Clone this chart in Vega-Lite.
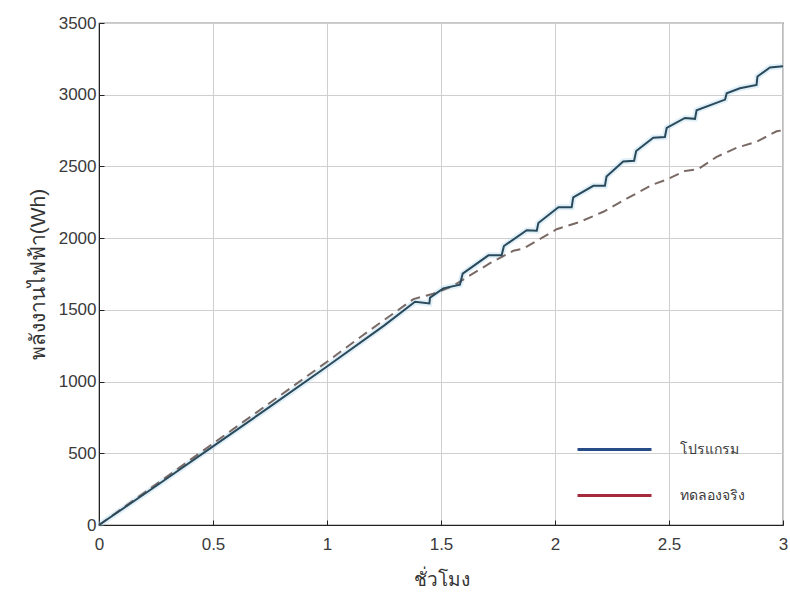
{
  "$schema": "https://vega.github.io/schema/vega-lite/v6.json",
  "width": 684,
  "height": 502,
  "autosize": {"type": "none"},
  "padding": {"left": 99, "top": 23, "right": 7, "bottom": 68},
  "background": "white",
  "config": {
    "font": "Liberation Sans",
    "view": {"stroke": "#222222", "strokeWidth": 1.2},
    "axis": {
      "gridColor": "#cfcfcf",
      "gridWidth": 1,
      "domainColor": "#222222",
      "tickColor": "#222222",
      "labelColor": "#3a3a3a",
      "labelFontSize": 17,
      "titleFontWeight": "normal",
      "titleColor": "#333333"
    }
  },
  "datasets": {
    "series": [
      {"hour": 0, "energy": 0, "series": "โปรแกรม"},
      {"hour": 0.25, "energy": 272, "series": "โปรแกรม"},
      {"hour": 0.5, "energy": 548, "series": "โปรแกรม"},
      {"hour": 0.75, "energy": 825, "series": "โปรแกรม"},
      {"hour": 1.0, "energy": 1105, "series": "โปรแกรม"},
      {"hour": 1.25, "energy": 1390, "series": "โปรแกรม"},
      {"hour": 1.386, "energy": 1556, "series": "โปรแกรม"},
      {"hour": 1.449, "energy": 1545, "series": "โปรแกรม"},
      {"hour": 1.452, "energy": 1585, "series": "โปรแกรม"},
      {"hour": 1.51, "energy": 1650, "series": "โปรแกรม"},
      {"hour": 1.583, "energy": 1675, "series": "โปรแกรม"},
      {"hour": 1.595, "energy": 1752, "series": "โปรแกรม"},
      {"hour": 1.708, "energy": 1880, "series": "โปรแกรม"},
      {"hour": 1.766, "energy": 1880, "series": "โปรแกรม"},
      {"hour": 1.776, "energy": 1945, "series": "โปรแกรม"},
      {"hour": 1.876, "energy": 2055, "series": "โปรแกรม"},
      {"hour": 1.92, "energy": 2052, "series": "โปรแกรม"},
      {"hour": 1.927, "energy": 2105, "series": "โปรแกรม"},
      {"hour": 2.015, "energy": 2215, "series": "โปรแกรม"},
      {"hour": 2.073, "energy": 2215, "series": "โปรแกรม"},
      {"hour": 2.08, "energy": 2285, "series": "โปรแกรม"},
      {"hour": 2.168, "energy": 2365, "series": "โปรแกรม"},
      {"hour": 2.219, "energy": 2365, "series": "โปรแกรม"},
      {"hour": 2.226, "energy": 2430, "series": "โปรแกรม"},
      {"hour": 2.299, "energy": 2535, "series": "โปรแกรม"},
      {"hour": 2.347, "energy": 2540, "series": "โปรแกรม"},
      {"hour": 2.356, "energy": 2607, "series": "โปรแกรม"},
      {"hour": 2.431, "energy": 2700, "series": "โปรแกรม"},
      {"hour": 2.482, "energy": 2705, "series": "โปรแกรม"},
      {"hour": 2.49, "energy": 2768, "series": "โปรแกรม"},
      {"hour": 2.57, "energy": 2838, "series": "โปรแกรม"},
      {"hour": 2.614, "energy": 2832, "series": "โปรแกรม"},
      {"hour": 2.621, "energy": 2892, "series": "โปรแกรม"},
      {"hour": 2.746, "energy": 2966, "series": "โปรแกรม"},
      {"hour": 2.753, "energy": 3010, "series": "โปรแกรม"},
      {"hour": 2.811, "energy": 3045, "series": "โปรแกรม"},
      {"hour": 2.884, "energy": 3068, "series": "โปรแกรม"},
      {"hour": 2.888, "energy": 3127, "series": "โปรแกรม"},
      {"hour": 2.943, "energy": 3190, "series": "โปรแกรม"},
      {"hour": 3.0, "energy": 3198, "series": "โปรแกรม"},
      {"hour": 0, "energy": 0, "series": "ทดลองจริง"},
      {"hour": 0.25, "energy": 283, "series": "ทดลองจริง"},
      {"hour": 0.5, "energy": 568, "series": "ทดลองจริง"},
      {"hour": 0.75, "energy": 852, "series": "ทดลองจริง"},
      {"hour": 1.0, "energy": 1138, "series": "ทดลองจริง"},
      {"hour": 1.159, "energy": 1325, "series": "ทดลองจริง"},
      {"hour": 1.379, "energy": 1575, "series": "ทดลองจริง"},
      {"hour": 1.466, "energy": 1612, "series": "ทดลองจริง"},
      {"hour": 1.55, "energy": 1665, "series": "ทดลองจริง"},
      {"hour": 1.627, "energy": 1740, "series": "ทดลองจริง"},
      {"hour": 1.715, "energy": 1825, "series": "ทดลองจริง"},
      {"hour": 1.817, "energy": 1912, "series": "ทดลองจริง"},
      {"hour": 1.861, "energy": 1927, "series": "ทดลองจริง"},
      {"hour": 2.007, "energy": 2062, "series": "ทดลองจริง"},
      {"hour": 2.11, "energy": 2114, "series": "ทดลองจริง"},
      {"hour": 2.212, "energy": 2184, "series": "ทดลองจริง"},
      {"hour": 2.314, "energy": 2275, "series": "ทดลองจริง"},
      {"hour": 2.431, "energy": 2375, "series": "ทดลองจริง"},
      {"hour": 2.49, "energy": 2408, "series": "ทดลองจริง"},
      {"hour": 2.57, "energy": 2468, "series": "ทดลองจริง"},
      {"hour": 2.629, "energy": 2482, "series": "ทดลองจริง"},
      {"hour": 2.709, "energy": 2567, "series": "ทดลองจริง"},
      {"hour": 2.797, "energy": 2630, "series": "ทดลองจริง"},
      {"hour": 2.884, "energy": 2672, "series": "ทดลองจริง"},
      {"hour": 2.972, "energy": 2745, "series": "ทดลองจริง"},
      {"hour": 3.0, "energy": 2752, "series": "ทดลองจริง"}
    ]
  },
  "data": {"name": "series"},
  "layer": [
    {
      "mark": {"type": "line", "strokeWidth": 3, "opacity": 0},
      "encoding": {
        "x": {
          "field": "hour",
          "type": "quantitative",
          "scale": {"domain": [0, 3], "nice": false},
          "axis": {
            "values": [0, 0.5, 1, 1.5, 2, 2.5, 3],
            "format": "~g",
            "title": "ชั่วโมง",
            "titleFontSize": 19,
            "titlePadding": 18,
            "tickSize": -5,
            "labelPadding": 16,
            "labelFlush": false
          }
        },
        "y": {
          "field": "energy",
          "type": "quantitative",
          "scale": {"domain": [0, 3500], "nice": false},
          "axis": {
            "values": [0, 500, 1000, 1500, 2000, 2500, 3000, 3500],
            "format": "d",
            "title": "พลังงานไฟฟ้า(Wh)",
            "titleFontSize": 21,
            "titlePadding": 10,
            "tickSize": -5,
            "labelPadding": 8
          }
        },
        "color": {
          "field": "series",
          "type": "nominal",
          "scale": {"domain": ["โปรแกรม", "ทดลองจริง"], "range": ["#284d86", "#a52a3c"]},
          "legend": {
            "title": null,
            "orient": "none",
            "legendX": 477,
            "legendY": 388,
            "symbolType": "stroke",
            "symbolSize": 5476,
            "symbolStrokeWidth": 3,
            "symbolOpacity": 1,
            "labelFontSize": 14,
            "labelColor": "#3a3a3a",
            "labelOffset": 27,
            "rowPadding": -30
          }
        }
      }
    },
    {
      "mark": {"type": "line", "strokeWidth": 6, "opacity": 0.35, "color": "#a9d3ec"},
      "transform": [{"filter": "datum.series === 'โปรแกรม'"}],
      "encoding": {
        "x": {"field": "hour", "type": "quantitative"},
        "y": {"field": "energy", "type": "quantitative"}
      }
    },
    {
      "mark": {"type": "line", "strokeWidth": 2, "color": "#7a6a66", "strokeDash": [10, 6]},
      "transform": [{"filter": "datum.series === 'ทดลองจริง'"}],
      "encoding": {
        "x": {"field": "hour", "type": "quantitative"},
        "y": {"field": "energy", "type": "quantitative"}
      }
    },
    {
      "mark": {"type": "line", "strokeWidth": 2, "color": "#2a4a5c"},
      "transform": [{"filter": "datum.series === 'โปรแกรม'"}],
      "encoding": {
        "x": {"field": "hour", "type": "quantitative"},
        "y": {"field": "energy", "type": "quantitative"}
      }
    }
  ]
}
